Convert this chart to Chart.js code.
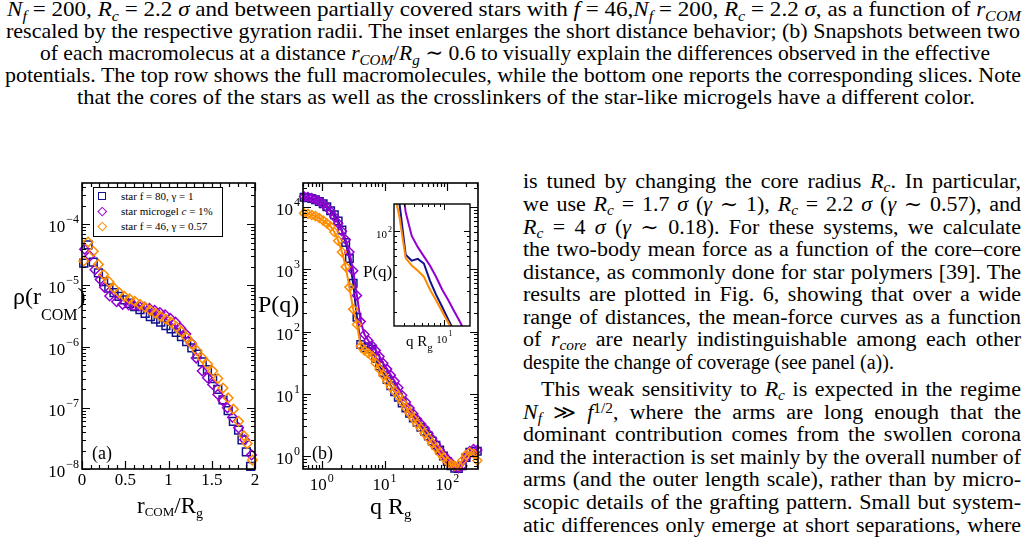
<!DOCTYPE html>
<html>
<head>
<meta charset="utf-8">
<title>rho(r_COM) and P(q)</title>
<script src="https://cdn.jsdelivr.net/npm/chart.js@4.4.1/dist/chart.umd.min.js"></script>
<style>
  html, body { margin: 0; padding: 0; background: #fff; }
  body { width: 1028px; height: 552px; position: relative; overflow: hidden;
         font-family: 'Liberation Serif', 'DejaVu Serif', serif; color: #000; }
  .ln { position: absolute; white-space: nowrap; line-height: 1; transform-origin: 0 0; }
  .cap { font-size: 22px; }
  .txt { font-size: 20px; }
  .sb { font-size: 0.7em; position: relative; top: 0.3em; font-style: italic; }
  .sp { font-size: 0.7em; position: relative; top: -0.45em; }
  .box { position: absolute; }
  .ttl { position: absolute; white-space: nowrap; line-height: 1; }
  .ttl span { position: relative; }
  #legA { position: absolute; left: 93px; top: 187px; width: 128px; height: 48px;
          border: 1px solid #000; background: #fff; font-size: 11px; }
  #legA .row { position: absolute; left: 27px; white-space: nowrap; line-height: 1; }
  #legA .sym { position: absolute; box-sizing: border-box; }
</style>
</head>
<body>

<!-- caption (end of figure 5) -->
<div class="ln cap" style="left:7px;top:-2px" data-w="1014"><i>N</i><span class="sb">f</span> = 200, <i>R</i><span class="sb">c</span> = 2.2 <i>σ</i> and between partially covered stars with <i>f</i> = 46,<i>N</i><span class="sb">f</span> = 200, <i>R</i><span class="sb">c</span> = 2.2 <i>σ</i>, as a function of <i>r</i><span class="sb">COM</span></div>
<div class="ln cap" style="left:6px;top:20px" data-w="1014">rescaled by the respective gyration radii. The inset enlarges the short distance behavior; (b) Snapshots between two</div>
<div class="ln cap" style="left:40px;top:42px" data-w="950">of each macromolecus at a distance <i>r</i><span class="sb">COM</span>/<i>R</i><span class="sb">g</span> ∼ 0.6 to visually explain the differences observed in the effective</div>
<div class="ln cap" style="left:5px;top:64px" data-w="1016">potentials. The top row shows the full macromolecules, while the bottom one reports the corresponding slices. Note</div>
<div class="ln cap" style="left:77px;top:86px" data-w="898">that the cores of the stars as well as the crosslinkers of the star-like microgels have a different color.</div>

<!-- figure 6 -->
<div class="box" style="left:0;top:170px;width:262px;height:360px"><canvas id="chartA" width="262" height="360"></canvas></div>
<div class="box" style="left:262px;top:170px;width:238px;height:360px"><canvas id="chartB" width="238" height="360"></canvas></div>
<div class="box" style="left:355px;top:195px;width:125px;height:165px"><canvas id="chartInset" width="125" height="165"></canvas></div>

<div id="legA">
  <span class="sym" style="left:4px;top:4px;width:8px;height:8px;border:1.5px solid #12128c"></span>
  <span class="sym" style="left:5px;top:20px;width:6.5px;height:6.5px;border:1.4px solid #9400d3;transform:rotate(45deg)"></span>
  <span class="sym" style="left:5px;top:35px;width:6.5px;height:6.5px;border:1.4px solid #ff8c00;transform:rotate(45deg)"></span>
  <div class="row" style="top:3px">star f = 80, γ = 1</div>
  <div class="row" style="top:18px">star microgel <i>c</i> = 1%</div>
  <div class="row" style="top:33px">star f = 46, γ = 0.57</div>
</div>

<div class="ttl" style="left:13px;top:284px;font-size:24px">ρ(r<span style="font-size:16px;top:16px">COM</span>)</div>
<div class="ttl" style="left:137px;top:494px;font-size:23px">r<span style="font-size:13px;top:3px">COM</span>/R<span style="font-size:14px;top:5px">g</span></div>
<div class="ttl" style="left:92px;top:444px;font-size:18px">(a)</div>

<div class="ttl" style="left:258px;top:292px;font-size:24px">P(q)</div>
<div class="ttl" style="left:370px;top:494px;font-size:24px">q R<span style="font-size:15px;top:5px">g</span></div>
<div class="ttl" style="left:312px;top:444px;font-size:18px">(b)</div>

<div class="ttl" style="left:363px;top:263px;font-size:17px">P(q)</div>
<div class="ttl" style="left:406px;top:334px;font-size:15px">q R<span style="font-size:11px;top:5px">g</span></div>

<!-- right column text -->
<div class="ln txt" style="left:523px;top:171px" data-w="498">is tuned by changing the core radius <i>R</i><span class="sb">c</span>. In particular,</div>
<div class="ln txt" style="left:523px;top:194px" data-w="498">we use <i>R</i><span class="sb">c</span> = 1.7 <i>σ</i> (<i>γ</i> ∼ 1), <i>R</i><span class="sb">c</span> = 2.2 <i>σ</i> (<i>γ</i> ∼ 0.57), and</div>
<div class="ln txt" style="left:523px;top:217px" data-w="498"><i>R</i><span class="sb">c</span> = 4 <i>σ</i> (<i>γ</i> ∼ 0.18). For these systems, we calculate</div>
<div class="ln txt" style="left:523px;top:239px" data-w="498">the two-body mean force as a function of the core–core</div>
<div class="ln txt" style="left:523px;top:262px" data-w="498">distance, as commonly done for star polymers [39]. The</div>
<div class="ln txt" style="left:523px;top:284px" data-w="498">results are plotted in Fig. 6, showing that over a wide</div>
<div class="ln txt" style="left:523px;top:307px" data-w="498">range of distances, the mean-force curves as a function</div>
<div class="ln txt" style="left:523px;top:329px" data-w="498">of <i>r</i><span class="sb">core</span> are nearly indistinguishable among each other</div>
<div class="ln txt" style="left:523px;top:352px">despite the change of coverage (see panel (a)).</div>
<div class="ln txt" style="left:541px;top:379px" data-w="480">This weak sensitivity to <i>R</i><span class="sb">c</span> is expected in the regime</div>
<div class="ln txt" style="left:523px;top:402px" data-w="498"><i>N</i><span class="sb">f</span> ≫ <i>f</i><span class="sp">1/2</span>, where the arms are long enough that the</div>
<div class="ln txt" style="left:523px;top:424px" data-w="498">dominant contribution comes from the swollen corona</div>
<div class="ln txt" style="left:523px;top:447px" data-w="498">and the interaction is set mainly by the overall number of</div>
<div class="ln txt" style="left:523px;top:469px" data-w="498">arms (and the outer length scale), rather than by micro-</div>
<div class="ln txt" style="left:523px;top:492px" data-w="498">scopic details of the grafting pattern. Small but system-</div>
<div class="ln txt" style="left:523px;top:515px" data-w="498">atic differences only emerge at short separations, where</div>

<script>
/* ── panel (a): rho(r_COM) vs r_COM/R_g ── */
var aStar80X = [0.02, 0.07, 0.13, 0.19, 0.25, 0.31, 0.37, 0.43, 0.49, 0.55, 0.61, 0.67, 0.73, 0.79, 0.85, 0.91, 0.97,
                1.03, 1.09, 1.15, 1.21, 1.27, 1.33, 1.39, 1.45, 1.51, 1.57, 1.63, 1.69, 1.75, 1.81, 1.85, 1.90, 1.95];
var aStar80Y = [2.3e-5, 4.6e-5, 2.4e-5, 1.6e-5, 1.15e-5, 9.0e-6, 7.6e-6, 6.6e-6, 5.8e-6, 5.1e-6, 4.5e-6, 4.0e-6, 3.5e-6,
                3.1e-6, 2.8e-6, 2.5e-6, 2.2e-6, 1.95e-6, 1.7e-6, 1.45e-6, 1.2e-6, 9.5e-7, 7.5e-7, 5.6e-7, 4.2e-7, 3.0e-7,
                2.0e-7, 1.35e-7, 9.0e-8, 6.0e-8, 4.3e-8, 3.0e-8, 1.9e-8, 1.1e-8];
var aMicrogelX = [0.03, 0.09, 0.15, 0.21, 0.26, 0.32, 0.40, 0.47, 0.54, 0.60, 0.66, 0.72, 0.78, 0.84, 0.90, 0.96, 1.02,
                  1.08, 1.14, 1.20, 1.26, 1.32, 1.39, 1.45, 1.51, 1.57, 1.63, 1.68, 1.74, 1.81, 1.88, 1.96];
var aMicrogelY = [3.9e-5, 3.0e-5, 1.8e-5, 1.25e-5, 9.3e-6, 6.7e-6, 5.4e-6, 4.9e-6, 4.8e-6, 4.7e-6, 4.6e-6, 4.4e-6, 4.2e-6,
                  3.9e-6, 3.6e-6, 3.3e-6, 2.9e-6, 2.5e-6, 2.0e-6, 1.6e-6, 1.15e-6, 6.5e-7, 4.0e-7, 3.1e-7, 2.4e-7,
                  1.65e-7, 1.3e-7, 1.0e-7, 7.0e-8, 4.7e-8, 3.0e-8, 1.7e-8];
var aStar46X = [0.02, 0.07, 0.13, 0.19, 0.25, 0.31, 0.37, 0.43, 0.49, 0.55, 0.61, 0.67, 0.73, 0.79, 0.85, 0.91, 0.97,
                1.03, 1.09, 1.15, 1.21, 1.27, 1.33, 1.39, 1.45, 1.51, 1.57, 1.63, 1.69, 1.75, 1.81, 1.87, 1.91, 1.97];
var aStar46Y = [2.5e-5, 5.1e-5, 3.6e-5, 2.2e-5, 1.5e-5, 1.15e-5, 9.0e-6, 7.6e-6, 6.6e-6, 6.0e-6, 5.5e-6, 4.9e-6, 4.4e-6,
                3.9e-6, 3.5e-6, 3.1e-6, 2.8e-6, 2.5e-6, 2.1e-6, 1.75e-6, 1.4e-6, 1.1e-6, 8.5e-7, 6.5e-7, 5.2e-7, 4.0e-7,
                3.0e-7, 2.1e-7, 1.45e-7, 9.5e-8, 6.0e-8, 3.5e-8, 2.6e-8, 1.4e-8];
var aXTicks = [0, 0.5, 1, 1.5, 2];
var aYTicks = [1e-8, 1e-7, 1e-6, 1e-5, 1e-4];

/* ── panel (b): P(q) vs q R_g ── */
var bQ = [0.52, 0.60, 0.69, 0.79, 0.91, 1.05, 1.20, 1.38, 1.58, 1.82, 2.09, 2.40, 2.75, 3.16, 3.63, 4.17, 4.79, 5.50,
          6.31, 7.24, 8.32, 9.55, 11.0, 12.6, 14.5, 16.6, 19.1, 21.9, 25.1, 28.8, 33.1, 38.0, 43.7, 50.1, 57.5, 66.1,
          75.9, 87.1, 100, 115, 132, 151, 174, 200, 229, 263, 302];
var bStar80 = [14500, 14200, 13800, 13200, 12400, 11400, 10200, 8800, 7600, 6000, 4300, 2700, 1500, 600, 170, 62, 55, 57,
               52, 37, 28, 22, 17, 13.5, 10.8, 8.8, 7.1, 5.9, 4.9, 4.1, 3.5, 2.9, 2.5, 2.1, 1.75, 1.5,
               1.25, 1.0, 0.82, 0.70, 0.64, 0.63, 0.70, 0.95, 1.15, 1.2, 1.2];
var bMicrogel = [14800, 14600, 14000, 13300, 12400, 11300, 10000, 8600, 7000, 5500, 4100, 3000, 1900, 950, 380, 145, 90, 72,
                 60, 50, 40, 31, 25, 20, 16, 12.5, 9.5, 7.4, 5.9, 4.8, 3.9, 3.3, 2.8, 2.3, 1.9, 1.55,
                 1.25, 1.05, 0.9, 0.78, 0.68, 0.64, 0.7, 0.95, 1.2, 1.3, 1.25];
var bStar46 = [8000, 7800, 7500, 7200, 6700, 6100, 5500, 4900, 4000, 2900, 1900, 1100, 520, 230, 130, 58, 50, 45,
               40, 31, 25, 20, 16, 13, 11, 9.2, 7.4, 6.0, 4.9, 4.0, 3.3, 2.8, 2.3, 1.95, 1.6, 1.35,
               1.12, 0.95, 0.82, 0.73, 0.70, 0.71, 0.85, 1.05, 1.15, 1.1, 0.85];
var bXTicks = [1, 10, 100];
var bYTicks = [1, 10, 100, 1000, 10000];
var insetXTicks = [10];
var insetYTicks = [100];

var C = { blue: '#12128c', violet: '#9400d3', orange: '#ff8c00' };
var SERIF = '"Liberation Serif", "DejaVu Serif", serif';

function xy(xs, ys) {
    return xs.map(function (x, i) { return { x: x, y: ys[i] }; });
}

/* all ticks of an axis: minors + majors, positions come from the scale */
function tickSet(scale, minorStep) {
    var out = [], v, e, m;
    if (scale.type === 'logarithmic') {
        for (e = Math.floor(Math.log10(scale.min)); e <= Math.floor(Math.log10(scale.max)); e++) {
            for (m = 1; m < 10; m++) {
                v = m * Math.pow(10, e);
                if (v >= scale.min * 0.999 && v <= scale.max * 1.001) out.push({ v: v, major: m === 1 });
            }
        }
    } else {
        var n = Math.round((scale.max - scale.min) / minorStep);
        for (var i = 0; i <= n; i++) {
            v = scale.min + i * minorStep;
            out.push({ v: v, major: Math.abs(v / 0.5 - Math.round(v / 0.5)) < 1e-6 });
        }
    }
    return out;
}

/* "10" with superscript exponent */
function powLabel(ctx, v, x, baseY, expBaseY, o, mode) {
    var ex = String(Math.round(Math.log10(v))).replace('-', '\u2212');
    ctx.font = o.font + 'px ' + SERIF;
    var w1 = ctx.measureText('10').width;
    ctx.font = o.expFont + 'px ' + SERIF;
    var w2 = ctx.measureText(ex).width;
    var x0 = mode === 'left' ? x - w1 - w2 - 1 : x - (w1 + w2 + 1) / 2;
    ctx.font = o.font + 'px ' + SERIF;
    ctx.fillText('10', x0, baseY);
    ctx.font = o.expFont + 'px ' + SERIF;
    ctx.fillText(ex, x0 + w1 + 1, expBaseY);
}

/* xmgrace-like frame: box, inward ticks on 4 sides, tick labels */
var graceFrame = {
    id: 'graceFrame',
    beforeDatasetsDraw: function (chart, args, o) {
        if (!o.paper) return;
        var a = chart.chartArea, ctx = chart.ctx;
        ctx.save();
        ctx.fillStyle = '#fff';
        ctx.fillRect(a.left, a.top, a.right - a.left, a.bottom - a.top);
        ctx.restore();
    },
    afterDraw: function (chart, args, o) {
        var ctx = chart.ctx, a = chart.chartArea;
        var sx = chart.scales.x, sy = chart.scales.y;
        ctx.save();
        ctx.strokeStyle = '#000';
        ctx.lineWidth = o.tickWidth;
        ctx.beginPath();
        tickSet(sx, o.xMinorStep).forEach(function (t) {
            var p = Math.round(sx.getPixelForValue(t.v)) + 0.5, L = t.major ? o.major : o.minor;
            ctx.moveTo(p, a.bottom); ctx.lineTo(p, a.bottom - L);
            ctx.moveTo(p, a.top); ctx.lineTo(p, a.top + L);
        });
        tickSet(sy).forEach(function (t) {
            var p = Math.round(sy.getPixelForValue(t.v)) + 0.5, L = t.major ? o.major : o.minor;
            ctx.moveTo(a.left, p); ctx.lineTo(a.left + L, p);
            ctx.moveTo(a.right, p); ctx.lineTo(a.right - L, p);
        });
        ctx.stroke();
        ctx.lineWidth = o.frameWidth;
        ctx.strokeRect(a.left, a.top, a.right - a.left, a.bottom - a.top);

        ctx.fillStyle = '#000';
        ctx.textBaseline = 'alphabetic';
        ctx.textAlign = 'left';
        o.xLabels.forEach(function (v) {
            var p = sx.getPixelForValue(v);
            if (sx.type === 'logarithmic') {
                powLabel(ctx, v, p, a.bottom + o.xBase, a.bottom + o.xExpBase, o, 'center');
            } else {
                ctx.font = o.font + 'px ' + SERIF;
                var s = String(v);
                ctx.fillText(s, p - ctx.measureText(s).width / 2, a.bottom + o.xBase);
            }
        });
        o.yLabels.forEach(function (v) {
            var p = sy.getPixelForValue(v);
            powLabel(ctx, v, a.left - o.yGap, p + o.yBase, p + o.yExpBase, o, 'left');
        });
        ctx.restore();
    }
};

function markerSet(label, pts, color, style, r) {
    return {
        label: label, data: pts, showLine: false, clip: false,
        borderColor: color, backgroundColor: 'rgba(0,0,0,0)',
        pointStyle: style, pointRadius: r, pointBorderWidth: 1.5,
        pointBackgroundColor: 'rgba(0,0,0,0)'
    };
}

function lineSet(label, pts, color, style, r) {
    var d = markerSet(label, pts, color, style, r);
    d.showLine = true;
    d.borderWidth = 2;
    d.tension = 0;
    return d;
}

function baseOptions(pad, xType, xr, yr, frame) {
    return {
        responsive: false,
        animation: false,
        devicePixelRatio: 1,
        events: [],
        layout: { padding: pad },
        scales: {
            x: { type: xType, min: xr[0], max: xr[1], display: false, bounds: 'data' },
            y: { type: 'logarithmic', min: yr[0], max: yr[1], display: false, bounds: 'data' }
        },
        plugins: { legend: { display: false }, tooltip: { enabled: false }, graceFrame: frame }
    };
}

var mainFrame = { frameWidth: 1.6, tickWidth: 1.2, major: 8, minor: 4, font: 17, expFont: 12,
                  yGap: 3, yBase: 8, yExpBase: -1 };

new Chart(document.getElementById('chartA'), {
    type: 'scatter',
    data: {
        datasets: [
            markerSet('star f = 46, γ = 0.57', xy(aStar46X, aStar46Y), C.orange, 'rectRot', 4.8),
            markerSet('star microgel c = 1%', xy(aMicrogelX, aMicrogelY), C.violet, 'rectRot', 4.8),
            markerSet('star f = 80, γ = 1', xy(aStar80X, aStar80Y), C.blue, 'rect', 5.5)
        ]
    },
    options: baseOptions({ left: 82, top: 13, right: 6, bottom: 61 }, 'linear', [0, 2], [1e-8, 4.7e-4],
        Object.assign({}, mainFrame, { xMinorStep: 0.1, xLabels: aXTicks, yLabels: aYTicks, xBase: 16 })),
    plugins: [graceFrame]
});

new Chart(document.getElementById('chartB'), {
    type: 'scatter',
    data: {
        datasets: [
            lineSet('star f = 46, γ = 0.57', xy(bQ, bStar46), C.orange, 'rectRot', 4.5),
            lineSet('star microgel c = 1%', xy(bQ, bMicrogel), C.violet, 'rectRot', 4.5),
            lineSet('star f = 80, γ = 1', xy(bQ, bStar80), C.blue, 'rect', 5.3)
        ]
    },
    options: baseOptions({ left: 41, top: 13, right: 22, bottom: 61 }, 'logarithmic', [0.5, 310], [0.62, 24500],
        Object.assign({}, mainFrame, { xLabels: bXTicks, yLabels: bYTicks, xBase: 21, xExpBase: 13 })),
    plugins: [graceFrame]
});

function insetSet(label, pts, color) {
    return { label: label, data: pts, showLine: true, borderColor: color, borderWidth: 2,
             pointRadius: 0, tension: 0 };
}

new Chart(document.getElementById('chartInset'), {
    type: 'scatter',
    data: {
        datasets: [
            insetSet('star f = 46, γ = 0.57', xy(bQ, bStar46), C.orange),
            insetSet('star f = 80, γ = 1', xy(bQ, bStar80), C.blue),
            insetSet('star microgel c = 1%', xy(bQ, bMicrogel), C.violet)
        ]
    },
    options: baseOptions({ left: 39, top: 9, right: 10, bottom: 34 }, 'logarithmic', [3.2, 18], [15, 170],
        { paper: true, frameWidth: 1.4, tickWidth: 1, major: 6, minor: 3, font: 11, expFont: 8,
          yGap: 2, yBase: 7, yExpBase: 1, xLabels: insetXTicks, yLabels: insetYTicks, xBase: 17, xExpBase: 10 }),
    plugins: [graceFrame]
});

/* fit each justified line to its measured width: stretch glyphs a little, then the spaces */
document.querySelectorAll('.ln[data-w]').forEach(function (el) {
    var target = parseFloat(el.getAttribute('data-w'));
    var natural = el.getBoundingClientRect().width;
    var gaps = (el.textContent.match(/ /g) || []).length;
    var s = Math.min(target / natural, 1.1);
    var extra = target - natural * s;
    if (extra > 0.5 && gaps) el.style.wordSpacing = (extra / s / gaps) + 'px';
    el.style.transform = 'scaleX(' + s + ')';
});
</script>
</body>
</html>
